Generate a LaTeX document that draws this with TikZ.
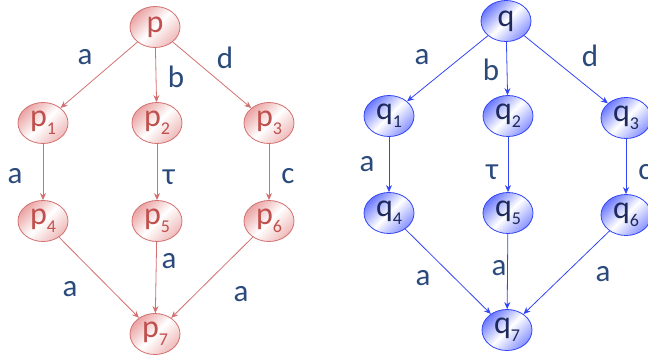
\documentclass[tikz,border=0pt]{standalone}
\usepackage{fontspec}
\setmainfont{Carlito}
\usetikzlibrary{arrows.meta,shapes.geometric}
\definecolor{lblc}{HTML}{2B4A7C}
\definecolor{redline}{HTML}{D27070}
\definecolor{redtext}{HTML}{C0504D}
\definecolor{redfill}{HTML}{EBA3A3}
\definecolor{blueline}{HTML}{3346F5}
\definecolor{bluetext}{HTML}{1E2A5C}
\definecolor{bluefill}{HTML}{6B78FF}
\newcommand{\sub}[1]{\raisebox{-8pt}{\fontsize{18}{18}\selectfont #1}}
\tikzset{
  pstate/.style={ellipse, draw=redline, line width=0.8pt, minimum width=50pt, minimum height=41pt, inner sep=0pt,
    top color=redfill, bottom color=redfill!75, middle color=white, shading angle=45,
    text=redtext, font=\fontsize{32}{32}\selectfont},
  qstate/.style={ellipse, draw=blueline, line width=0.8pt, minimum width=50pt, minimum height=41pt, inner sep=0pt,
    top color=bluefill, bottom color=bluefill!80, middle color=white, shading angle=45,
    text=bluetext, font=\fontsize{32}{32}\selectfont},
  ptr/.style={draw=redline, line width=0.8pt, -{Stealth[length=7pt,width=6pt]}},
  qtr/.style={draw=blueline, line width=0.8pt, -{Stealth[length=7pt,width=6pt]}},
  lbl/.style={text=lblc, font=\fontsize{31}{31}\selectfont, inner sep=0pt}
}
\begin{document}
\begin{tikzpicture}[x=1pt,y=-1pt]
\useasboundingbox (0,0) rectangle (648,362);
% left graph
\node[pstate] (p)  at (155,27) {p};
\node[pstate] (p1) at (43,123) {p\sub{1}};
\node[pstate] (p2) at (157,123) {p\sub{2}};
\node[pstate] (p3) at (269,123) {p\sub{3}};
\node[pstate] (p4) at (43,221) {p\sub{4}};
\node[pstate] (p5) at (157,221) {p\sub{5}};
\node[pstate] (p6) at (269,221) {p\sub{6}};
\node[pstate] (p7) at (155,334) {p\sub{7}};
\draw[ptr] (p) -- (p1);
\draw[ptr] (p) -- (p2);
\draw[ptr] (p) -- (p3);
\draw[ptr] (p1) -- (p4);
\draw[ptr] (p2) -- (p5);
\draw[ptr] (p3) -- (p6);
\draw[ptr] (p4) -- (p7);
\draw[ptr] (p5) -- (p7);
\draw[ptr] (p6) -- (p7);
\node[lbl] (la1) at (85,57) {a};
\node[lbl] (lb1) at (176,77) {b};
\node[lbl] (ld1) at (225,58) {d};
\node[lbl] (la2) at (15,176) {a};
\node[lbl] (lt1) at (169,177) {τ};
\node[lbl] (lc1) at (288,176) {c};
\node[lbl] (la3) at (70,289) {a};
\node[lbl] (la4) at (169,261) {a};
\node[lbl] (la5) at (241,294) {a};
% right graph
\node[qstate] (q)  at (506,21) {q};
\node[qstate] (q1) at (389,116) {q\sub{1}};
\node[qstate] (q2) at (508,116) {q\sub{2}};
\node[qstate] (q3) at (626,118) {q\sub{3}};
\node[qstate] (q4) at (389,213) {q\sub{4}};
\node[qstate] (q5) at (508,213) {q\sub{5}};
\node[qstate] (q6) at (626,215) {q\sub{6}};
\node[qstate] (q7) at (507,330) {q\sub{7}};
\draw[qtr] (q) -- (q1);
\draw[qtr] (q) -- (q2);
\draw[qtr] (q) -- (q3);
\draw[qtr] (q1) -- (q4);
\draw[qtr] (q2) -- (q5);
\draw[qtr] (q3) -- (q6);
\draw[qtr] (q4) -- (q7);
\draw[qtr] (q5) -- (q7);
\draw[qtr] (q6) -- (q7);
\node[lbl] (lqa1) at (422,57) {a};
\node[lbl] (lqb1) at (491,70) {b};
\node[lbl] (lqd1) at (590,56) {d};
\node[lbl] (lqa2) at (367,164) {a};
\node[lbl] (lqt1) at (492,172) {τ};
\node[lbl] (lqc1) at (645,172) {c};
\node[lbl] (lqa3) at (423,278) {a};
\node[lbl] (lqa4) at (499,268) {a};
\node[lbl] (lqa5) at (603,274) {a};
\end{tikzpicture}
\end{document}
